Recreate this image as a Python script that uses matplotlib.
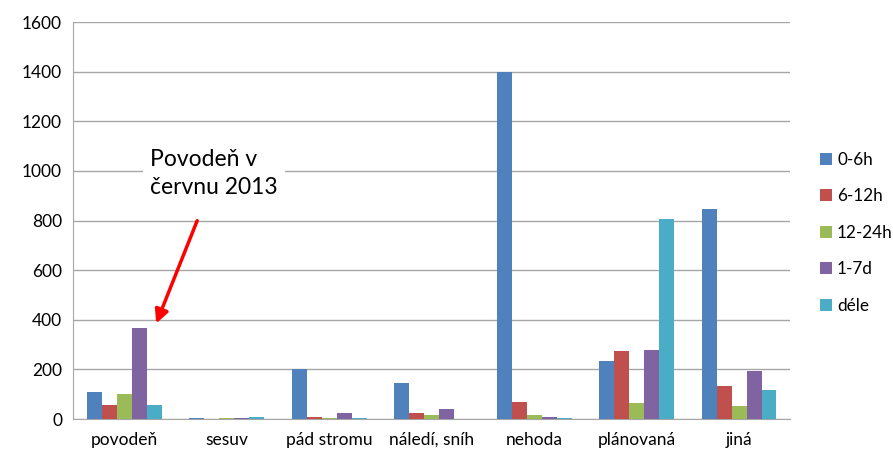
import matplotlib.pyplot as plt
import numpy as np

plt.rcParams['font.family'] = ['Lato', 'DejaVu Sans']

# Data
categories = ['povodeň', 'sesuv', 'pád stromu', 'náledí, sníh', 'nehoda', 'plánovaná', 'jiná']
series_names = ['0-6h', '6-12h', '12-24h', '1-7d', 'déle']
v_0_6h = [108, 6, 200, 146, 1400, 235, 848]
v_6_12h = [56, 0, 10, 24, 68, 274, 134]
v_12_24h = [100, 5, 5, 15, 15, 64, 51]
v_1_7d = [367, 5, 24, 42, 10, 278, 195]
v_dele = [56, 10, 5, 0, 5, 805, 117]
colors = ['#4F81BD', '#C0504D', '#9BBB59', '#8064A2', '#4BACC6']

series = [v_0_6h, v_6_12h, v_12_24h, v_1_7d, v_dele]

fig = plt.figure(figsize=(8.93, 4.62), dpi=100)
ax = fig.add_axes([0.082, 0.093, 0.803, 0.859])

x = np.arange(len(categories))
w = 0.146
for i, (vals, name, c) in enumerate(zip(series, series_names, colors)):
    ax.bar(x + (i - 2) * w, vals, width=w, color=c, label=name, zorder=3)

ax.set_xlim(-0.5, len(categories) - 0.5)
ax.set_ylim(0, 1600)
ax.set_yticks(range(0, 1601, 200))
ax.set_xticks(x)
ax.set_xticklabels(categories, fontsize=12.5)
ax.tick_params(axis='y', labelsize=12.5, length=0, pad=8)
ax.tick_params(axis='x', length=0, pad=9)
ax.grid(axis='y', color='#A6A6A6', linewidth=1, zorder=0)
for s in ['top', 'right']:
    ax.spines[s].set_visible(False)
for s in ['left', 'bottom']:
    ax.spines[s].set_color('#A6A6A6')

ax.legend(loc='center left', bbox_to_anchor=(1.02, 0.47), frameon=False,
          fontsize=12.3, handlelength=0.7, handleheight=0.7, labelspacing=1.2,
          handletextpad=0.3)

ax.annotate('Povodeň v\nčervnu 2013', xy=(0.3, 370), xytext=(0.25, 990),
            fontsize=16.5, ha='left', va='center', linespacing=1.45,
            bbox=dict(boxstyle='square,pad=0.3', fc='white', ec='none'),
            zorder=5)
ax.annotate('', xy=(0.3, 375), xytext=(0.72, 810),
            arrowprops=dict(arrowstyle='-|>', color='red', lw=2.5,
                            mutation_scale=20), zorder=5)

fig.savefig('out.png', dpi=100)
